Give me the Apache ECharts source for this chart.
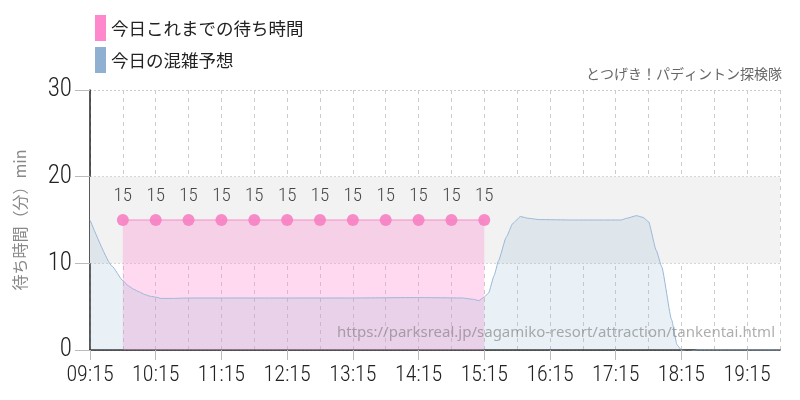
<!DOCTYPE html>
<html>
<head>
<meta charset="utf-8">
<script src="https://cdn.jsdelivr.net/npm/echarts@6/dist/echarts.min.js"></script>
<style>
html,body{margin:0;padding:0;background:#fff;}
#c{width:800px;height:400px;}
</style>
</head>
<body>
<div id="c"></div>
<script>
// minutes after 09:15
var xTickLabels = ['09:15','10:15','11:15','12:15','13:15','14:15','15:15','16:15','17:15','18:15','19:15'];
var yTicks = [0, 10, 20, 30];

var actualTimes = [30, 60, 90, 120, 150, 180, 210, 240, 270, 300, 330, 360];
var actualValues = [15, 15, 15, 15, 15, 15, 15, 15, 15, 15, 15, 15];

var forecastTimes = [0, 20, 30, 35, 40, 45, 50, 55, 60, 65, 75, 90, 120, 180, 240, 300, 340, 350, 355, 360, 364, 369, 373, 380, 386, 393, 400, 410, 440, 470, 485, 490, 499, 505, 510, 517, 522, 531, 536, 540, 545, 555, 580, 630];
var forecastValues = [15.0, 9.7, 8.0, 7.4, 7.0, 6.7, 6.4, 6.2, 6.1, 5.95, 5.95, 6.0, 6.0, 6.0, 6.0, 6.05, 6.0, 5.85, 5.7, 6.1, 6.6, 8.6, 10.3, 13.0, 14.6, 15.4, 15.2, 15.05, 15.0, 15.0, 15.0, 15.2, 15.5, 15.3, 14.8, 11.5, 9.6, 3.5, 0.6, 0.0, -0.2, 0.0, 0.0, 0.0];

var title = 'とつげき！パディントン探検隊';
var sourceUrl = 'https://parksreal.jp/sagamiko-resort/attraction/tankentai.html';
var seriesNames = ['今日これまでの待ち時間', '今日の混雑予想'];

function zip(t, v) { return t.map(function (x, i) { return [x, v[i]]; }); }

var numFont = "'Roboto Condensed', 'DejaVu Sans Condensed', sans-serif";
var jpFont = "'Noto Sans CJK JP', 'Noto Sans', sans-serif";

var chart = echarts.init(document.getElementById('c'));
chart.setOption({
  animation: false,
  backgroundColor: '#fff',
  grid: { left: 90, right: 20, top: 90, bottom: 50, containLabel: false },
  legend: {
    orient: 'vertical', left: 90, top: 10,
    itemWidth: 11, itemHeight: 26, itemGap: 6,
    icon: 'rect',
    textStyle: { fontSize: 17.5, color: '#222', fontFamily: jpFont },
    data: [
      { name: seriesNames[0], itemStyle: { color: '#ff88cc', opacity: 1 } },
      { name: seriesNames[1], itemStyle: { color: '#8fb0d0', opacity: 1 } }
    ]
  },
  graphic: [
    { type: 'text', right: 18, top: 67, style: { text: title, fontSize: 14, fill: '#666', fontFamily: jpFont } },
    { type: 'text', right: 25, top: 325, z: 100, style: { text: sourceUrl, fontSize: 15, fill: 'rgba(120,120,120,0.6)', fontFamily: "'Noto Sans', sans-serif" } }
  ],
  xAxis: {
    type: 'value', min: 0, max: 630, interval: 60,
    axisLine: { show: true, lineStyle: { color: '#222', width: 1.5 } },
    axisTick: { show: true, length: 10, lineStyle: { color: '#bbb' } },
    axisLabel: {
      margin: 14, fontSize: 22, fontWeight: 300, color: '#222', fontFamily: numFont, showMaxLabel: false,
      formatter: function (v) { return v % 60 === 0 ? (xTickLabels[v / 60] || '') : ''; }
    },
    splitLine: { show: true, lineStyle: { color: '#ccc', type: [4, 4] } },
    minorTick: { show: false, splitNumber: 2 },
    minorSplitLine: { show: true, lineStyle: { color: '#ccc', type: [4, 4] } }
  },
  yAxis: {
    type: 'value', min: yTicks[0], max: yTicks[yTicks.length - 1], interval: 10,
    name: '待ち時間（分）min', nameLocation: 'middle', nameGap: 62, nameRotate: 90,
    nameTextStyle: { fontSize: 16, color: '#888', fontFamily: jpFont },
    axisLine: { show: true, lineStyle: { color: '#222', width: 1.5 } },
    axisTick: { show: true, length: 15, lineStyle: { color: '#bbb' } },
    axisLabel: { margin: 18, fontSize: 25, fontWeight: 300, color: '#222', fontFamily: numFont },
    splitLine: { show: true, lineStyle: { color: '#ccc', type: [2, 2] } }
  },
  series: [
    {
      type: 'line', name: 'band', data: [], z: 0, silent: true,
      markArea: {
        silent: true,
        itemStyle: { color: '#f2f2f2' },
        data: [[{ yAxis: 10 }, { yAxis: 20 }]]
      }
    },
    {
      type: 'line', name: seriesNames[0], z: 2,
      data: zip(actualTimes, actualValues),
      symbol: 'circle', symbolSize: 12,
      itemStyle: { color: '#f77fc2', opacity: 0.9 },
      lineStyle: { color: '#f78cc8', width: 1 },
      areaStyle: { color: 'rgba(255,136,204,0.45)', origin: 'start' },
      label: { show: true, position: 'top', distance: 8, fontSize: 19, fontWeight: 300, color: '#333', fontFamily: numFont }
    },
    {
      type: 'line', name: seriesNames[1], z: 3,
      data: zip(forecastTimes, forecastValues),
      smooth: 0.15, smoothMonotone: 'x',
      showSymbol: false, symbol: 'none',
      itemStyle: { color: '#8fb0d0' },
      lineStyle: { color: '#9ab8d8', width: 1 },
      areaStyle: { color: 'rgba(143,176,208,0.28)', origin: 'start' }
    }
  ]
});
</script>
</body>
</html>
